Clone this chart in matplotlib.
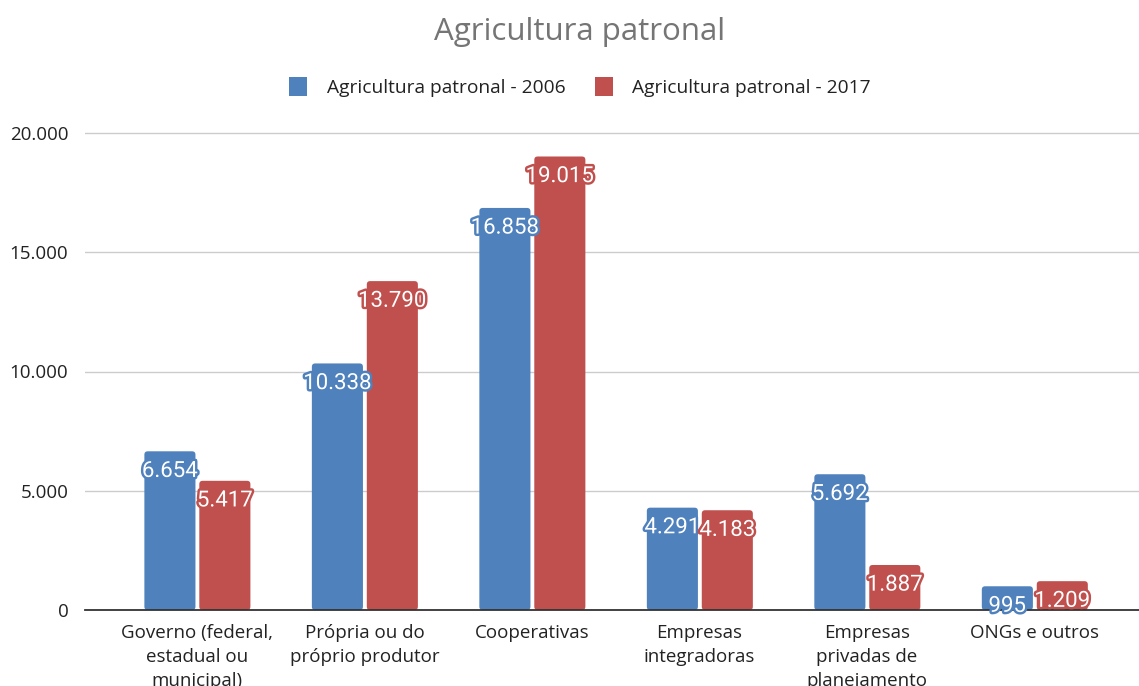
import matplotlib
matplotlib.use("Agg")
import matplotlib.pyplot as plt
import matplotlib.patheffects as pe
from matplotlib.patches import FancyBboxPatch, Patch
from matplotlib.ticker import FuncFormatter

# dados
categorias = ["Governo (federal,\nestadual ou\nmunicipal)",
              "Própria ou do\npróprio produtor",
              "Cooperativas",
              "Empresas\nintegradoras",
              "Empresas\nprivadas de\nplanejamento",
              "ONGs e outros"]
serie_2006 = [6654, 10338, 16858, 4291, 5692, 995]
serie_2017 = [5417, 13790, 19015, 4183, 1887, 1209]
nomes = ["Agricultura patronal - 2006", "Agricultura patronal - 2017"]
azul = "#4F81BD"
vermelho = "#C0504D"

def milhar(v):
    return f"{int(v):,}".replace(",", ".")

fig = plt.figure(figsize=(11.39, 6.86), dpi=100)
ax = fig.add_axes([85 / 1139, 76 / 686, 1 - 85 / 1139, 477 * 1.025 / 686])

x = list(range(len(categorias)))
larg = 0.305
b1 = ax.bar([i - 0.162 for i in x], serie_2006, larg, color=azul)
b2 = ax.bar([i + 0.166 for i in x], serie_2017, larg, color=vermelho)

ax.set_xlim(-0.669, 5.624)
ax.set_ylim(0, 20500)

# cantos arredondados no topo das barras
asp = (20500 / (477 * 1.025)) * 167.5
for barras, cor in ((b1, azul), (b2, vermelho)):
    for r in barras:
        r.set_visible(False)
        p = FancyBboxPatch((r.get_x(), r.get_y()), r.get_width(), r.get_height(),
                           boxstyle="round,pad=0,rounding_size=0.02",
                           mutation_aspect=asp, facecolor=cor, edgecolor="none",
                           zorder=2)
        ax.add_patch(p)

# rótulos de valor
for barras, vals, cor in ((b1, serie_2006, azul), (b2, serie_2017, vermelho)):
    for r, v in zip(barras, vals):
        ax.annotate(milhar(v), xy=(r.get_x() + r.get_width() / 2, v),
                    xytext=(0, -14.5), textcoords="offset points",
                    ha="center", va="center", color="white", fontsize=16,
                    family="Roboto", zorder=5,
                    path_effects=[pe.withStroke(linewidth=3.5, foreground=cor)])

ax.set_yticks([0, 5000, 10000, 15000, 20000])
ax.yaxis.set_major_formatter(FuncFormatter(lambda v, p: milhar(v)))
ax.set_xticks(x)
ax.set_xticklabels(categorias, fontsize=13.5, family="Open Sans", color="#222222",
                   linespacing=1.45)
ax.tick_params(axis="y", length=0, pad=12, labelsize=13.5, labelcolor="#222222")
ax.tick_params(axis="x", length=0, pad=10)
for t in ax.get_yticklabels():
    t.set_family("Open Sans")

ax.grid(axis="y", color="#CCCCCC", linewidth=1)
ax.set_axisbelow(True)
for s in ("top", "right", "left"):
    ax.spines[s].set_visible(False)
ax.spines["bottom"].set_color("#333333")
ax.spines["bottom"].set_linewidth(1.3)
ax.spines["bottom"].set_zorder(3)

fig.text(580 / 1139, 1 - 32 / 686, "Agricultura patronal", ha="center", va="center",
         fontsize=22.5, family="Open Sans", color="#757575")

handles = [Patch(facecolor=azul), Patch(facecolor=vermelho)]
fig.legend(handles=handles, labels=nomes, loc="center",
           bbox_to_anchor=(580 / 1139, 1 - 87 / 686), ncol=2, frameon=False,
           prop={"family": "Open Sans", "size": 13.8}, labelcolor="#222222",
           handlelength=0.95, handleheight=1.15, handletextpad=1.0,
           columnspacing=1.55)

fig.savefig("out.png", dpi=100)
